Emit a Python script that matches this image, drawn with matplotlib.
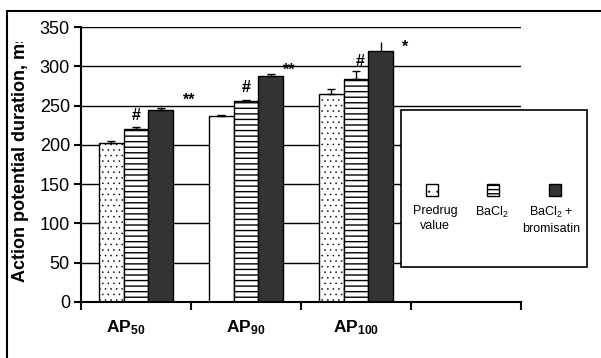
import numpy as np
import matplotlib
matplotlib.use('Agg')
import matplotlib.pyplot as plt
from matplotlib.patches import Rectangle
from matplotlib.transforms import Bbox, blended_transform_factory

plt.rcParams['font.family'] = ['Liberation Sans', 'DejaVu Sans']
plt.rcParams['mathtext.fontset'] = 'custom'
plt.rcParams['mathtext.rm'] = 'Liberation Sans'
plt.rcParams['mathtext.bf'] = 'Liberation Sans:bold'
plt.rcParams['mathtext.it'] = 'Liberation Sans:italic'
plt.rcParams['hatch.linewidth'] = 1.0

# data
groups = [r'$\mathbf{AP}_{\mathbf{50}}$', r'$\mathbf{AP}_{\mathbf{90}}$', r'$\mathbf{AP}_{\mathbf{100}}$']
predrug = [203, 237, 265]
predrug_err = [2.5, 1.2, 6]
bacl2 = [220, 256, 284]
bacl2_err = [3, 1.7, 10]
bromisatin = [244, 288, 319]
bromisatin_err = [3, 2.5, 12]
series_names = ['Predrug\nvalue', 'BaCl$_2$', 'BaCl$_2$ +\nbromisatin']
# significance marks: (text, x, y)
marks = [('#', 0.0, 238), ('**', 0.48, 257),
         ('#', 1.0, 273), ('**', 1.39, 295),
         ('#', 2.04, 306), ('*', 2.45, 324)]

W, H = 601, 358
fig = plt.figure(figsize=(W / 100, H / 100), dpi=100)

def fx(px):
    return px / W

def fy(py):
    return 1 - py / H

ax = fig.add_axes([fx(81), fy(302), fx(521) - fx(81), fy(27) - fy(302)])

x = np.arange(len(groups))
w = 0.227
ax.set_axisbelow(True)
with plt.rc_context({'hatch.linewidth': 0.35}):
    b1 = ax.bar(x - w, predrug, w, color='white', edgecolor='black', linewidth=1, hatch='...')
b2 = ax.bar(x, bacl2, w, color='white', edgecolor='black', linewidth=1, hatch='---')
b3 = ax.bar(x + w, bromisatin, w, color='#333333', edgecolor='black', linewidth=1)
b1[1].set_hatch('')
for p in b1:
    if hasattr(p, 'set_hatch_linewidth'):
        p.set_hatch_linewidth(0.35)

caps = [[3, 3, 3], [3, 3, 3], [3, 3, 0]]
for k, (vals, errs) in enumerate([(predrug, predrug_err), (bacl2, bacl2_err), (bromisatin, bromisatin_err)]):
    for i in range(len(groups)):
        ax.errorbar(x[i] + (k - 1) * w, vals[i], yerr=[[0], [errs[i]]], fmt='none',
                    ecolor='black', elinewidth=1, capsize=caps[k][i], capthick=1, zorder=1)

for txt, mx, my in marks:
    ax.text(mx, my, txt, ha='center', va='center', fontsize=11.5, fontweight='bold')

ax.set_xlim(-0.5, 3.5)
ax.set_ylim(0, 350)
ax.set_yticks(np.arange(0, 351, 50))
ax.yaxis.grid(True, color='black', linewidth=1)
ax.set_xticks([-0.5, 0.5, 1.5, 2.5, 3.5])
ax.set_xticklabels([])
ax.tick_params(axis='x', length=6, width=1.5, direction='out')
ax.tick_params(axis='y', length=5, width=1.5, direction='out', labelsize=13, pad=3)
for s in ['top', 'right']:
    ax.spines[s].set_visible(False)
ax.spines['left'].set_linewidth(1.5)
ax.spines['bottom'].set_linewidth(1.5)

trans = blended_transform_factory(ax.transData, ax.transAxes)
label_x = [-0.09, 1.0, 2.0]
for lx, g in zip(label_x, groups):
    ax.text(lx, -0.095, g, transform=trans, ha='center', va='center', fontsize=12.5)

ylab = fig.text(fx(21), 1 - 157 / H, 'Action potential duration, ms', rotation=90,
                ha='center', va='center', fontsize=13, fontweight='bold')
clip = Bbox.from_extents(0, 0, W, H - 42)
ylab.set_clip_box(clip)
ylab.set_clip_on(True)

# outer chart frame
fig.add_artist(Rectangle((fx(7), fy(380)), fx(620) - fx(7), fy(11) - fy(380),
                         transform=fig.transFigure, fill=False, edgecolor='black',
                         linewidth=1.5, clip_on=False))

# legend box
fig.add_artist(Rectangle((fx(401), fy(267)), fx(587) - fx(401), fy(110) - fy(267),
                         transform=fig.transFigure, facecolor='white', edgecolor='black',
                         linewidth=1.2))
with plt.rc_context({'hatch.linewidth': 0.35}):
    key_dot = Rectangle((fx(426), fy(196)), fx(12), 12 / H, transform=fig.transFigure,
                        edgecolor='black', linewidth=1, facecolor='white', hatch='..')
keys = [key_dot,
        Rectangle((fx(487), fy(196)), fx(12), 12 / H, transform=fig.transFigure,
                  edgecolor='black', linewidth=1, facecolor='white', hatch='----'),
        Rectangle((fx(549), fy(196)), fx(12), 12 / H, transform=fig.transFigure,
                  edgecolor='black', linewidth=1, facecolor='#333333')]
if hasattr(key_dot, 'set_hatch_linewidth'):
    key_dot.set_hatch_linewidth(0.35)
text_x = [435, 492, 551]
for key, tx, name in zip(keys, text_x, series_names):
    fig.add_artist(key)
    fig.text(fx(tx), fy(205), name, ha='center', va='top', fontsize=9, linespacing=1.3)

fig.savefig('out.png', dpi=100)
